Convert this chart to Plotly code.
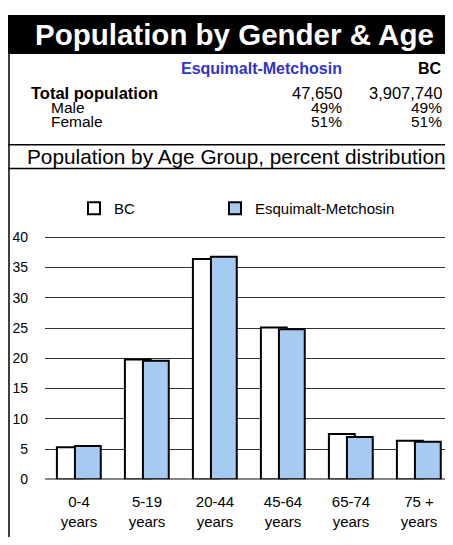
import plotly.graph_objects as go

# Page body keeps its default 8px margin, so lay out in window pixels
# and shift everything by that offset.
WIN_W, WIN_H = 453, 545
OFF = 8
W, H = WIN_W - OFF, WIN_H - OFF

# ── Data ──────────────────────────────────────────────────────────────────────
age_groups = ["0-4<br>years", "5-19<br>years", "20-44<br>years",
              "45-64<br>years", "65-74<br>years", "75 +<br>years"]
bc_pct = [5.3, 19.8, 36.4, 25.1, 7.5, 6.4]
esq_pct = [5.5, 19.6, 36.8, 24.8, 7.0, 6.2]

summary_rows = ["Total population", "Male", "Female"]
esq_summary = ["47,650", "49%", "51%"]
bc_summary = ["3,907,740", "49%", "51%"]

FONT = "Arial, Liberation Sans, sans-serif"
ESQ_BLUE = "#A6CAF0"


def px(x):
    return (x - OFF) / W


def py(y):
    return 1 - (y - OFF) / H


fig = go.Figure()

# Excel-style overlapping clustered bars (BC behind, region in front)
fig.add_trace(go.Bar(
    x=age_groups, y=bc_pct, name="BC", legend="legend", showlegend=True,
    width=0.38, offset=-0.325,
    marker=dict(color="white", line=dict(color="black", width=2)),
))
fig.add_trace(go.Bar(
    x=age_groups, y=esq_pct, name="Esquimalt-Metchosin", legend="legend2",
    showlegend=True, width=0.38, offset=-0.06,
    marker=dict(color=ESQ_BLUE, line=dict(color="black", width=2)),
))

# ── Frames ────────────────────────────────────────────────────────────────────
line = dict(color="black", width=1.5)
shapes = [
    # black title band
    dict(type="rect", x0=px(8), x1=px(448), y0=py(8), y1=py(48),
         fillcolor="black", line=dict(width=0)),
    # left border runs all the way down
    dict(type="line", x0=px(9), x1=px(9), y0=py(48), y1=py(545), line=line),
    # right border of table + subtitle boxes
    dict(type="line", x0=px(447.5), x1=px(447.5), y0=py(48), y1=py(166), line=line),
    # subtitle box
    dict(type="line", x0=px(8), x1=px(448), y0=py(141.5), y1=py(141.5), line=line),
    dict(type="line", x0=px(8), x1=px(448), y0=py(166), y1=py(166), line=line),
]
for s in shapes:
    s.update(xref="paper", yref="paper", layer="above")

# ── Text ──────────────────────────────────────────────────────────────────────
ann = [
    dict(text="<b>Population by Gender & Age</b>", x=px(234), y=py(28),
         font=dict(size=29.5, color="white")),
    dict(text="<b>Esquimalt-Metchosin</b>", x=px(343), y=py(63), xanchor="right",
         font=dict(size=16, color="#3333CC")),
    dict(text="<b>BC</b>", x=px(443), y=py(63), xanchor="right",
         font=dict(size=16, color="black")),
    dict(text="Population by Age Group, percent distribution", x=px(237), y=py(154),
         font=dict(size=20.8, color="black")),
]
row_y = [88, 103.5, 118]
row_x = [30, 50, 50]
for i, label in enumerate(summary_rows):
    txt = f"<b>{label}</b>" if i == 0 else label
    size = 16.5 if i == 0 else 15.5
    ann.append(dict(text=txt, x=px(row_x[i]), y=py(row_y[i]), xanchor="left",
                    font=dict(size=size, color="black")))
    ann.append(dict(text=esq_summary[i], x=px(343), y=py(row_y[i]), xanchor="right",
                    font=dict(size=size, color="black")))
    ann.append(dict(text=bc_summary[i], x=px(443), y=py(row_y[i]), xanchor="right",
                    font=dict(size=size, color="black")))
for a in ann:
    a.update(xref="paper", yref="paper", showarrow=False, yanchor="middle", borderpad=0)
    a.setdefault("xanchor", "center")

legend_style = dict(orientation="h", yanchor="middle", xanchor="left", visible=True,
                    font=dict(size=15), bgcolor="rgba(0,0,0,0)")

fig.update_layout(
    width=W, height=H,
    margin=dict(l=0, r=0, t=0, b=0, pad=0),
    paper_bgcolor="white", plot_bgcolor="white",
    font=dict(family=FONT, color="black", size=14),
    barmode="overlay",
    showlegend=True,
    shapes=shapes,
    annotations=ann,
    legend=dict(x=px(74), y=py(207), **legend_style),
    legend2=dict(x=px(215), y=py(207), **legend_style),
    xaxis=dict(
        domain=[px(45), 1], range=[-0.5, 5.5],
        showgrid=False, showline=False, ticks="",
        tickfont=dict(size=15), ticklabelstandoff=12,
    ),
    # range ends a hair above 40 so the top gridline is kept
    yaxis=dict(
        domain=[py(485.7), py(235.45)], range=[0, 40.2], dtick=5,
        showgrid=True, gridcolor="#333333", gridwidth=1,
        zeroline=True, zerolinecolor="#888888", zerolinewidth=2,
        showline=False, ticks="", tickfont=dict(size=14),
        ticklabelstandoff=16,
    ),
)

fig.write_html("out.html")
